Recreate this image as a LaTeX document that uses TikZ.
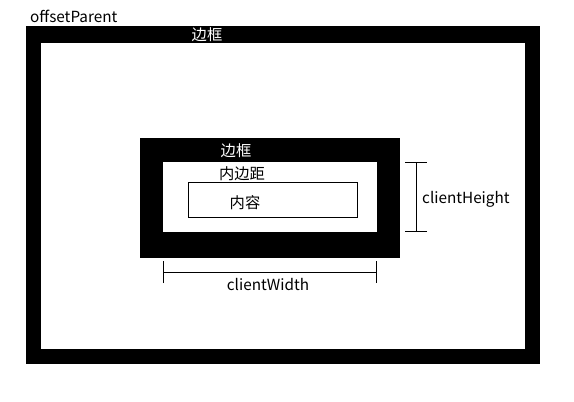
\documentclass[tikz,border=0pt]{standalone}
\usepackage{fontspec}
\newfontfamily\cjk{Noto Sans CJK SC}
\usetikzlibrary{arrows.meta}

\tikzset{
  lbl/.style={font=\cjk\fontsize{15.3}{17}\selectfont,inner sep=0pt,anchor=base},
  wlbl/.style={lbl,text=white},
  dimline/.style={line width=1pt,{Bar[width=22pt]}-{Bar[width=22pt]}}
}

\begin{document}
\begin{tikzpicture}[x=1pt,y=-1pt]
      \useasboundingbox (0,0) rectangle (574,402);
      % offsetParent with its border
      \fill[black] (26,26) rectangle (540,364);
      \fill[white] (41,43) rectangle (525,349);
      \node[lbl,anchor=base west] (parent) at (30,22) {offsetParent};
      \node[wlbl] (outerborder) at (207,40.5) {边框};
      % the element: border, padding, content
      \fill[black] (140,138) rectangle (400,258);
      \fill[white] (163,162) rectangle (377,232);
      \coordinate (pad-nw) at (163,162);
      \coordinate (pad-se) at (377,232);
      \draw[line width=1pt] (188,182) rectangle (357,217);
      \node[wlbl] (innerborder) at (236,156) {边框};
      \node[lbl] (padding) at (242,179) {内边距};
      \node[lbl] (content) at (245,208) {内容};
      % client sizes
      \coordinate (w-left) at (pad-nw |- 0,272);
      \coordinate (w-right) at (pad-se |- 0,272);
      \draw[dimline] (w-left) -- (w-right);
      \node[lbl] (cwidth) at (268,290) {clientWidth};
      \coordinate (h-top) at (416,0 |- pad-nw);
      \coordinate (h-bottom) at (416,0 |- pad-se);
      \draw[dimline] (h-top) -- (h-bottom);
      \node[lbl,anchor=base west] (cheight) at (422,203) {clientHeight};
    \end{tikzpicture}
\end{document}
